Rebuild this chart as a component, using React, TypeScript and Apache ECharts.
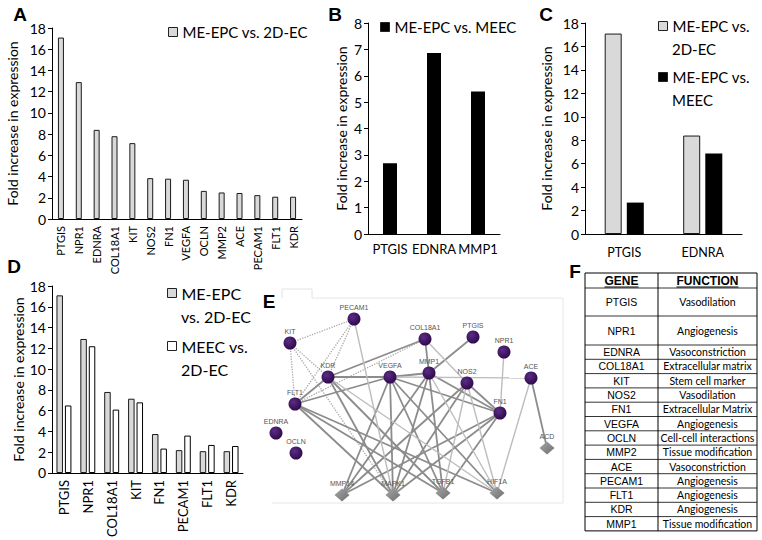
import React, { useEffect, useRef } from 'react';
import * as echarts from 'echarts';

// ---------- DATA ----------
const genesA = ['PTGIS', 'NPR1', 'EDNRA', 'COL18A1', 'KIT', 'NOS2', 'FN1', 'VEGFA', 'OCLN', 'MMP2', 'ACE', 'PECAM1', 'FLT1', 'KDR'];
const valuesA = [17.1, 12.9, 8.4, 7.8, 7.15, 3.85, 3.8, 3.7, 2.65, 2.5, 2.45, 2.25, 2.1, 2.1];

const genesB = ['PTGIS', 'EDNRA', 'MMP1'];
const valuesB = [2.68, 6.86, 5.4];

const genesC = ['PTGIS', 'EDNRA'];
const valuesC2D = [17.1, 8.4];
const valuesCMeec = [2.68, 6.86];

const genesD = ['PTGIS', 'NPR1', 'COL18A1', 'KIT', 'FN1', 'PECAM1', 'FLT1', 'KDR'];
const valuesDEpc = [17.1, 12.9, 7.8, 7.15, 3.75, 2.2, 2.1, 2.1];
const valuesDMeec = [6.5, 12.2, 6.1, 6.8, 2.35, 3.6, 2.7, 2.6];

const S_2D = 'ME-EPC vs. 2D-EC';
const S_MEEC = 'ME-EPC vs. MEEC';
const S_MEEC2D = 'MEEC vs. 2D-EC';

// network (panel E)
const netNodes = ['PECAM1', 'KIT', 'COL18A1', 'PTGIS', 'NPR1', 'KDR', 'VEGFA', 'MMP1', 'NOS2', 'ACE', 'FLT1', 'FN1', 'EDNRA', 'OCLN', 'ACD', 'MMP14', 'MAPK1', 'TGFB1', 'HIF1A'];
const netX = [354, 290, 425, 473, 504, 328, 390, 429, 467, 531, 295, 500, 276, 296, 547, 342, 393, 443, 497];
const netY = [319, 343, 339, 337, 352, 377, 377, 373, 383, 378, 404, 413, 433, 453, 448, 495, 495, 493, 493];
const netHub = [0, 0, 0, 0, 0, 0, 0, 0, 0, 0, 0, 0, 0, 0, 1, 1, 1, 1, 1];

const linkFrom = [
  'KIT', 'KIT', 'PECAM1', 'PECAM1', 'KIT', 'FLT1', 'KIT',
  'KDR', 'KDR', 'VEGFA', 'KDR', 'COL18A1', 'PTGIS', 'VEGFA', 'VEGFA', 'MMP1', 'NOS2', 'ACE',
  'KDR', 'KDR', 'FLT1', 'FLT1', 'FLT1', 'VEGFA', 'VEGFA', 'VEGFA', 'VEGFA', 'MMP1', 'MMP1', 'MMP1',
  'NOS2', 'NOS2', 'FN1', 'FN1', 'FN1',
  'PECAM1', 'NPR1', 'VEGFA', 'COL18A1', 'ACE', 'NOS2', 'KDR', 'NOS2', 'MMP1'
];
const linkTo = [
  'PECAM1', 'FLT1', 'FLT1', 'KDR', 'KDR', 'COL18A1', 'MAPK1',
  'VEGFA', 'FLT1', 'FLT1', 'COL18A1', 'MMP1', 'MMP1', 'MMP1', 'FN1', 'FN1', 'FN1', 'ACD',
  'MAPK1', 'TGFB1', 'MAPK1', 'TGFB1', 'HIF1A', 'MMP14', 'MAPK1', 'TGFB1', 'HIF1A', 'MMP14', 'MAPK1', 'TGFB1',
  'MAPK1', 'MMP14', 'MMP14', 'MAPK1', 'TGFB1',
  'MAPK1', 'FN1', 'ACE', 'NOS2', 'HIF1A', 'HIF1A', 'HIF1A', 'TGFB1', 'HIF1A'
];
const linkKind = [
  'dot', 'dot', 'dot', 'dot', 'dot', 'dot', 'dot',
  'dark', 'dark', 'dark', 'dark', 'dark', 'dark', 'dark', 'dark', 'dark', 'dark', 'dark',
  'dark', 'dark', 'dark', 'dark', 'dark', 'dark', 'dark', 'dark', 'dark', 'dark', 'dark', 'dark',
  'dark', 'dark', 'dark', 'dark', 'dark',
  'light', 'light', 'light', 'light', 'light', 'light', 'light', 'light', 'light'
];

// table (panel F)
const tableHeader = ['GENE', 'FUNCTION'];
const tableGenes = ['PTGIS', 'NPR1', 'EDNRA', 'COL18A1', 'KIT', 'NOS2', 'FN1', 'VEGFA', 'OCLN', 'MMP2', 'ACE', 'PECAM1', 'FLT1', 'KDR', 'MMP1'];
const tableFunctions = ['Vasodilation', 'Angiogenesis', 'Vasoconstriction', 'Extracellular matrix', 'Stem cell marker', 'Vasodilation', 'Extracellular Matrix', 'Angiogenesis', 'Cell-cell interactions', 'Tissue modification', 'Vasoconstriction', 'Angiogenesis', 'Angiogenesis', 'Angiogenesis', 'Tissue modification'];

const panelLetters = ['A', 'B', 'C', 'D', 'E', 'F'];

// legend wording: [first line (legend item), second line]
const legendLinesC2D = ['ME-EPC vs.', '2D-EC'];
const legendLinesCMeec = ['ME-EPC vs.', 'MEEC'];
const legendLinesDEpc = ['ME-EPC', 'vs. 2D-EC'];
const legendLinesDMeec = ['MEEC vs.', '2D-EC'];

// ---------- STYLE ----------
const FONT = 'Lato, "Open Sans", sans-serif';
const ARIAL = '"Liberation Sans", Arial, sans-serif';
const YTITLE = 'Fold increase in expression';

function catAxis(gridIndex: number, data: string[], label: any) {
  return {
    type: 'category', gridIndex, data,
    axisLine: { lineStyle: { color: '#000', width: 1 } },
    axisTick: { length: 5, lineStyle: { color: '#000' } },
    axisLabel: { color: '#000', fontFamily: FONT, interval: 0, ...label },
    splitLine: { show: false },
  };
}
function valAxis(gridIndex: number, max: number, interval: number, nameGap: number) {
  return {
    type: 'value', gridIndex, min: 0, max, interval,
    name: YTITLE, nameLocation: 'middle', nameGap, nameRotate: 90,
    nameTextStyle: { fontFamily: FONT, fontSize: 14, color: '#000' },
    axisLine: { show: true, lineStyle: { color: '#000' } },
    axisTick: { show: true, length: 4, lineStyle: { color: '#000' } },
    axisLabel: { color: '#000', fontFamily: FONT, fontSize: 14, margin: 6 },
    splitLine: { show: false },
  };
}
const grayStyle = { color: '#d9d9d9', borderColor: '#1a1a1a', borderWidth: 1 };
const blackStyle = { color: '#000' };
const whiteStyle = { color: '#fff', borderColor: '#000', borderWidth: 1 };

function legendCfg(name: string, left: number, top: number, fontSize: number, text?: string) {
  return {
    data: [name], left, top, padding: 0, orient: 'vertical',
    itemWidth: 9, itemHeight: 9, icon: 'rect', selectedMode: false,
    itemStyle: { borderColor: '#222', borderWidth: 1 },
    formatter: () => (text || name),
    textStyle: { fontFamily: FONT, fontSize, color: '#000' },
  };
}

function measure(text: string, font: string) {
  const c = document.createElement('canvas').getContext('2d');
  if (!c) return text.length * 7;
  c.font = font;
  return c.measureText(text).width;
}

export default function App() {
  const ref = useRef<HTMLDivElement>(null);
  useEffect(() => {
    if (!ref.current) return;
    const chart = echarts.init(ref.current, null, { renderer: 'svg' });

    // network nodes / links
    const minX = Math.min(...netX), maxX = Math.max(...netX);
    const minY = Math.min(...netY), maxY = Math.max(...netY);
    const purple = new echarts.graphic.RadialGradient(0.38, 0.35, 0.7, [
      { offset: 0, color: '#5b2d86' }, { offset: 1, color: '#2c0848' }]);
    const grayDia = new echarts.graphic.LinearGradient(0, 0, 1, 1, [
      { offset: 0, color: '#a6a6a6' }, { offset: 1, color: '#6e6e6e' }]);
    const nodes = netNodes.map((n, i) => ({
      name: n, x: netX[i], y: netY[i],
      symbol: netHub[i] ? 'diamond' : 'circle',
      symbolSize: netHub[i] ? [15, 13] : 13,
      itemStyle: netHub[i] ? { color: grayDia } : { color: purple },
    }));
    const lineStyles: any = {
      dark: { color: '#8c8c8c', width: 1.8, type: 'solid', opacity: 1 },
      light: { color: '#bdbdbd', width: 1.4, type: 'solid', opacity: 1 },
      dot: { color: '#a9a9a9', width: 1.3, type: 'dotted', opacity: 1 },
    };
    const links = linkFrom.map((s, i) => ({ source: s, target: linkTo[i], lineStyle: lineStyles[linkKind[i]] }));

    // table geometry
    const tL = 585, tR = 757, tMid = 658, tTop = 273;
    const rowBounds: number[] = [tTop, 288, 316, 345];
    for (let k = 1; k <= 13; k++) rowBounds.push(345 + 14.3 * k);
    const tBottom = rowBounds[rowBounds.length - 1];
    const gCx = (tL + tMid) / 2, fCx = (tMid + tR) / 2;
    const headFont = `bold 12px ${ARIAL}`;
    const graphics: any[] = [];
    graphics.push({ type: 'rect', shape: { x: tL, y: tTop, width: tR - tL, height: tBottom - tTop }, style: { fill: 'none', stroke: '#000', lineWidth: 1 } });
    graphics.push({ type: 'line', shape: { x1: tMid, y1: tTop, x2: tMid, y2: tBottom }, style: { stroke: '#000', lineWidth: 1 } });
    for (let k = 1; k < rowBounds.length - 1; k++) {
      graphics.push({ type: 'line', shape: { x1: tL, y1: rowBounds[k], x2: tR, y2: rowBounds[k] }, style: { stroke: '#000', lineWidth: 0.8 } });
    }
    const hy = (rowBounds[0] + rowBounds[1]) / 2;
    [gCx, fCx].forEach((cx, i) => {
      const w = measure(tableHeader[i], headFont);
      graphics.push({ type: 'text', x: cx, y: hy, style: { text: tableHeader[i], font: headFont, fill: '#000', textAlign: 'center', textVerticalAlign: 'middle' } });
      graphics.push({ type: 'line', shape: { x1: cx - w / 2, y1: hy + 6.5, x2: cx + w / 2, y2: hy + 6.5 }, style: { stroke: '#000', lineWidth: 1 } });
    });
    tableGenes.forEach((g, i) => {
      const cy = (rowBounds[i + 1] + rowBounds[i + 2]) / 2;
      graphics.push({ type: 'text', x: gCx, y: cy, style: { text: g, font: `10.5px ${ARIAL}`, fill: '#000', textAlign: 'center', textVerticalAlign: 'middle' } });
      graphics.push({ type: 'text', x: fCx, y: cy, style: { text: tableFunctions[i], font: `10.5px ${FONT}`, fill: '#000', textAlign: 'center', textVerticalAlign: 'middle' } });
    });

    // second lines of the wrapped legend entries
    const secondLines: [string, number, number, number][] = [
      [legendLinesC2D[1], 672, 49, 15],
      [legendLinesCMeec[1], 672, 100, 15],
      [legendLinesDEpc[1], 181, 316, 16],
      [legendLinesDMeec[1], 181, 369, 16],
    ];
    secondLines.forEach(([t, x, y, fs]) => {
      graphics.push({ type: 'text', x, y, style: { text: t, font: `${fs}px ${FONT}`, fill: '#000', textAlign: 'left', textVerticalAlign: 'middle' } });
    });

    // panel E frame
    graphics.push({ type: 'polyline', shape: { points: [[282, 298], [282, 289], [312, 289], [312, 298]] }, style: { fill: 'none', stroke: '#e2e2e2', lineWidth: 1 } });
    graphics.push({ type: 'polyline', shape: { points: [[312, 298], [563, 298], [563, 503], [272, 503]] }, style: { fill: 'none', stroke: '#e6e6e6', lineWidth: 1 } });

    // panel letters
    const letterPos = [[20, 14], [335, 14], [546, 14], [14, 266], [269, 301], [575, 271]];
    panelLetters.forEach((l, i) => {
      graphics.push({ type: 'text', x: letterPos[i][0], y: letterPos[i][1], style: { text: l, font: `bold 19px ${ARIAL}`, fill: '#000', textAlign: 'center', textVerticalAlign: 'middle' } });
    });

    const option: any = {
      animation: false,
      backgroundColor: '#fff',
      grid: [
        { left: 52, top: 28, width: 250, height: 191 },
        { left: 368, top: 23, width: 132, height: 211 },
        { left: 585, top: 23, width: 157, height: 211 },
        { left: 52, top: 286, width: 191, height: 187 },
      ],
      xAxis: [
        catAxis(0, genesA, { rotate: 90, fontSize: 11, margin: 7 }),
        catAxis(1, genesB, { fontSize: 13, margin: 8 }),
        catAxis(2, genesC, { fontSize: 12.5, margin: 12 }),
        catAxis(3, genesD, { rotate: 90, fontSize: 13, margin: 7 }),
      ],
      yAxis: [
        valAxis(0, 18, 2, 33),
        valAxis(1, 8, 1, 20),
        valAxis(2, 18, 2, 32),
        valAxis(3, 18, 2, 27),
      ],
      legend: [
        legendCfg(S_2D, 168, 24.5, 15),
        legendCfg(S_MEEC, 380, 19.5, 15),
        legendCfg(S_2D, 658, 18.5, 15, legendLinesC2D[0]),
        legendCfg(S_MEEC, 658, 69.5, 15, legendLinesCMeec[0]),
        legendCfg(S_2D, 167, 285, 16, legendLinesDEpc[0]),
        legendCfg(S_MEEC2D, 167, 338, 16, legendLinesDMeec[0]),
      ],
      series: [
        { type: 'bar', name: S_2D, xAxisIndex: 0, yAxisIndex: 0, data: valuesA, barWidth: 6, itemStyle: grayStyle },
        { type: 'bar', name: S_MEEC, xAxisIndex: 1, yAxisIndex: 1, data: valuesB, barWidth: 14, itemStyle: blackStyle },
        { type: 'bar', name: S_2D, xAxisIndex: 2, yAxisIndex: 2, data: valuesC2D, barWidth: 17, barGap: '30%', itemStyle: grayStyle },
        { type: 'bar', name: S_MEEC, xAxisIndex: 2, yAxisIndex: 2, data: valuesCMeec, barWidth: 17, barGap: '30%', itemStyle: blackStyle },
        { type: 'bar', name: S_2D, xAxisIndex: 3, yAxisIndex: 3, data: valuesDEpc, barWidth: 6.5, barGap: '30%', itemStyle: grayStyle },
        { type: 'bar', name: S_MEEC2D, xAxisIndex: 3, yAxisIndex: 3, data: valuesDMeec, barWidth: 6.5, barGap: '30%', itemStyle: whiteStyle },
        {
          type: 'graph', layout: 'none', roam: false, silent: true,
          left: minX, top: minY, width: maxX - minX, height: maxY - minY,
          data: nodes, links,
          label: { show: true, position: 'top', distance: 2, fontSize: 7, color: '#555', fontFamily: ARIAL },
          emphasis: { disabled: true },
        },
      ],
      graphic: { elements: graphics },
    };
    chart.setOption(option);
    return () => chart.dispose();
  }, []);
  return <div ref={ref} style={{ position: 'absolute', left: 0, top: 0, width: 762, height: 540, background: '#fff' }} />;
}
